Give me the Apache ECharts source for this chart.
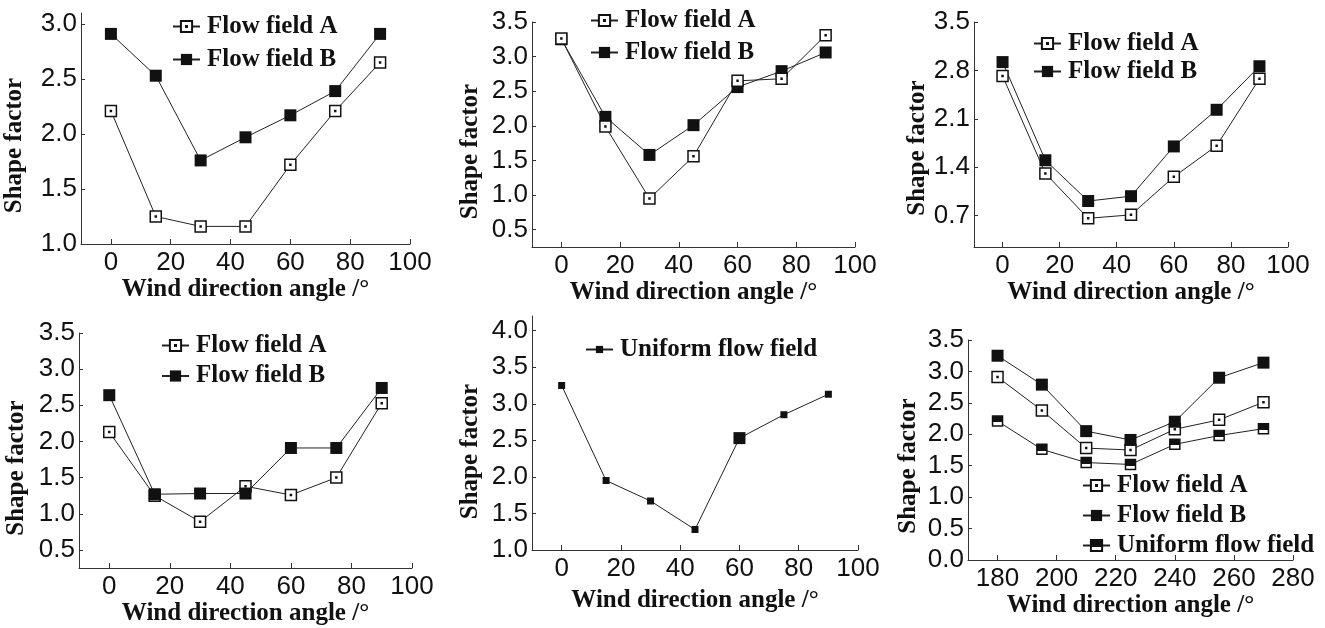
<!DOCTYPE html>
<html><head><meta charset="utf-8">
<script src="https://cdn.jsdelivr.net/npm/echarts@6/dist/echarts.min.js"></script>
<style>html,body{margin:0;padding:0;background:#fff}#c{width:1325px;height:628px}</style>
</head><body><div id="c"></div>
<script>
// ---- data ----
const angles = [0, 15, 30, 45, 60, 75, 90];
const angles6 = [180, 195, 210, 225, 240, 255, 270];

const p1A = [2.21, 1.25, 1.16, 1.16, 1.72, 2.21, 2.65];
const p1B = [2.91, 2.53, 1.76, 1.97, 2.17, 2.39, 2.91];
const p2A = [3.26, 1.99, 0.95, 1.56, 2.65, 2.68, 3.31];
const p2B = [3.25, 2.13, 1.58, 2.01, 2.56, 2.79, 3.06];
const p3A = [2.72, 1.31, 0.66, 0.71, 1.26, 1.71, 2.68];
const p3B = [2.92, 1.50, 0.91, 0.98, 1.70, 2.23, 2.86];
const p4A = [2.13, 1.25, 0.89, 1.38, 1.26, 1.50, 2.53];
const p4B = [2.64, 1.27, 1.28, 1.28, 1.91, 1.91, 2.74];
const p5U = [3.25, 1.95, 1.67, 1.28, 2.53, 2.85, 3.13];
const p6A = [2.91, 2.38, 1.78, 1.75, 2.08, 2.23, 2.51];
const p6B = [3.25, 2.79, 2.05, 1.91, 2.20, 2.90, 3.14];
const p6U = [2.21, 1.76, 1.55, 1.52, 1.84, 1.98, 2.09];

const xTicks = [0, 20, 40, 60, 80, 100];
const xTicks6 = [180, 200, 220, 240, 260, 280];
const yTicks1 = [1.0, 1.5, 2.0, 2.5, 3.0];
const yTicks2 = [0.5, 1.0, 1.5, 2.0, 2.5, 3.0, 3.5];
const yTicks3 = [0.7, 1.4, 2.1, 2.8, 3.5];
const yTicks4 = [0.5, 1.0, 1.5, 2.0, 2.5, 3.0, 3.5];
const yTicks5 = [1.0, 1.5, 2.0, 2.5, 3.0, 3.5, 4.0];
const yTicks6 = [0.0, 0.5, 1.0, 1.5, 2.0, 2.5, 3.0, 3.5];

const nameA = 'Flow field A', nameB = 'Flow field B', nameU = 'Uniform flow field';
const xTitle = 'Wind direction angle /°', yTitle = 'Shape factor';

// ---- styles ----
const INK = '#111';
const openSym = 'path://M0,0L10,0L10,10L0,10Z M4.55,4.55L5.45,4.55L5.45,5.45L4.55,5.45Z';
const styles = {
  A: { symbol: openSym, symbolSize: 11, itemStyle: { color: '#fff', borderColor: INK, borderWidth: 1.5 } },
  B: { symbol: 'rect', symbolSize: 12, itemStyle: { color: INK, borderColor: INK, borderWidth: 0 } },
  U5: { symbol: 'rect', symbolSize: 7, itemStyle: { color: INK } },
  U6: { symbol: 'rect', symbolSize: 10, itemStyle: {
      color: { type: 'linear', x: 0, y: 0, x2: 0, y2: 1, colorStops: [
        { offset: 0, color: INK }, { offset: 0.6, color: INK }, { offset: 0.6, color: '#fff' }, { offset: 1, color: '#fff' }] },
      borderColor: INK, borderWidth: 1.5 } }
};

const panels = [
  { grid: { left: 81, top: 13, width: 329, height: 231 }, x: [-10, 100], xt: xTicks, y: [1.0, 3.1], yt: yTicks1,
    s: [[nameA, p1A, 'A'], [nameB, p1B, 'B']], lg: { left: 172, top: 14, gap: 8, ih: 14 }, yGap: 54, yPad: 34, xGap: 33 },
  { grid: { left: 532, top: 22, width: 323, height: 225 }, x: [-10, 100], xt: xTicks, y: [0.25, 3.5], yt: yTicks2,
    s: [[nameB, p2B, 'B'], [nameA, p2A, 'A']], order: [1, 0], lg: { left: 590, top: 8, gap: 7, ih: 14 }, yGap: 49, yPad: 34, xGap: 30 },
  { grid: { left: 974, top: 22, width: 314, height: 225 }, x: [-10, 100], xt: xTicks, y: [0.245, 3.5], yt: yTicks3,
    s: [[nameA, p3A, 'A'], [nameB, p3B, 'B']], lg: { left: 1033, top: 31, gap: 3, ih: 14 }, yGap: 44, yPad: 27, xGap: 30 },
  { grid: { left: 79, top: 333, width: 333, height: 235 }, x: [-10, 100], xt: xTicks, y: [0.25, 3.5], yt: yTicks4,
    s: [[nameA, p4A, 'A'], [nameB, p4B, 'B']], lg: { left: 161, top: 333, gap: 5.5, ih: 14 }, yGap: 50, yPad: 35, xGap: 32 },
  { grid: { left: 532, top: 316, width: 326, height: 234 }, x: [-10, 100], xt: xTicks, y: [1.0, 4.2], yt: yTicks5,
    s: [[nameU, p5U, 'U5']], lg: { left: 585, top: 337, gap: 5, ih: 9 }, yGap: 49, yPad: 37, xGap: 38 },
  { grid: { left: 968, top: 340, width: 325, height: 220 }, x: [170, 280], xt: xTicks6, y: [0, 3.5], yt: yTicks6,
    s: [[nameA, p6A, 'A'], [nameB, p6B, 'B'], [nameU, p6U, 'U6']], lg: { left: 1082, top: 473, gap: 5, ih: 14 }, yGap: 47, yPad: 32, xGap: 23 }
];

const option = { animation: false, backgroundColor: '#fff', grid: [], xAxis: [], yAxis: [], series: [], legend: [] };
const labelFont = { fontFamily: 'Liberation Sans', fontSize: 26, color: INK };
const titleFont = { fontFamily: 'Liberation Serif', fontWeight: 'bold', fontSize: 25, color: INK };

panels.forEach((p, i) => {
  option.grid.push(Object.assign({ outerBoundsMode: 'none', containLabel: false }, p.grid));
  const xs = i === 5 ? angles6 : angles;
  option.xAxis.push({
    type: 'value', gridIndex: i, min: p.x[0], max: p.x[1],
    name: xTitle, nameLocation: 'middle', nameGap: p.xGap, nameTextStyle: titleFont,
    axisLine: { show: true, onZero: false, lineStyle: { color: '#333', width: 1 } },
    axisTick: { show: true, inside: true, length: 5, customValues: p.xt, lineStyle: { color: '#333' } },
    axisLabel: Object.assign({ margin: 6, customValues: p.xt, formatter: v => String(v) }, labelFont),
    splitLine: { show: false }
  });
  option.yAxis.push({
    type: 'value', gridIndex: i, min: p.y[0], max: p.y[1],
    name: yTitle, nameLocation: 'middle', nameGap: p.yGap, nameRotate: 90,
    nameTextStyle: Object.assign({ padding: [0, p.yPad, 0, 0] }, titleFont),
    axisLine: { show: true, onZero: false, lineStyle: { color: '#333', width: 1 } },
    axisTick: { show: true, inside: true, length: 4, customValues: p.yt, lineStyle: { color: '#333' } },
    axisLabel: Object.assign({ margin: 4, customValues: p.yt, formatter: v => v.toFixed(1) }, labelFont),
    splitLine: { show: false }
  });
  const names = [];
  p.s.forEach(([nm, vals, st]) => {
    const id = 'p' + i + '|' + nm;
    names.push(id);
    const data = vals.map((v, k) => {
      if (st === 'U5' && k === 4) return { value: [xs[k], v], symbolSize: 12 };
      return [xs[k], v];
    });
    option.series.push(Object.assign({
      type: 'line', name: id, xAxisIndex: i, yAxisIndex: i, data: data,
      showAllSymbol: true, silent: true,
      lineStyle: { color: '#222', width: 1 }
    }, styles[st]));
  });
  const legendNames = p.order ? p.order.map(k => names[k]) : names;
  option.legend.push({
    data: legendNames, left: p.lg.left, top: p.lg.top, orient: 'vertical',
    itemWidth: 27, itemHeight: p.lg.ih, itemGap: p.lg.gap, padding: 0,
    selectedMode: false,
    formatter: n => n.split('|')[1],
    textStyle: Object.assign({ lineHeight: 25, padding: [0, 0, 0, 2] }, titleFont)
  });
});

const chart = echarts.init(document.getElementById('c'));
chart.setOption(option);
</script>
</body></html>
